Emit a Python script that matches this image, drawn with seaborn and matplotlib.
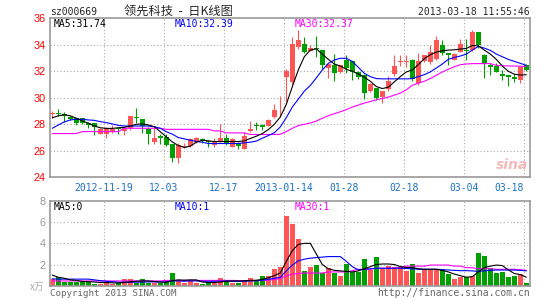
import numpy as np
import pandas as pd
import matplotlib
matplotlib.use("Agg")
import matplotlib.pyplot as plt
import seaborn as sns

# ---------------- data ----------------
tick_labels = ["2012-11-19", "12-03", "12-17", "2013-01-14", "01-28", "02-18", "03-04", "03-18"]

open_ = [28.75, 28.85, 28.77, 28.57, 28.45, 28.46, 28.08, 28.08, 27.28, 27.28,
         27.41, 27.74, 27.51, 27.69, 28.54, 28.38, 27.62, 26.64, 27.08, 27.06,
         26.49, 25.43, 26.25, 26.36, 26.69, 26.90, 26.72, 26.43, 26.73, 27.00,
         26.30, 26.60, 26.13, 27.50, 27.90, 27.95, 27.85, 28.52, 28.98, 31.60,
         31.20, 33.86, 34.04, 33.53, 33.75, 33.60, 32.27, 32.47, 31.92, 32.85,
         32.80, 31.97, 31.70, 30.48, 30.73, 30.05, 30.63, 31.80, 32.70, 32.70,
         32.83, 31.08, 32.75, 32.70, 32.95, 34.00, 33.40, 32.88, 33.45, 33.60,
         33.58, 34.95, 33.25, 32.45, 32.40, 31.83, 31.70, 31.58, 31.33, 32.50]
close = [28.85, 28.78, 28.60, 28.38, 28.10, 28.10, 27.95, 27.80, 27.62, 27.74,
         27.62, 27.62, 27.69, 28.59, 28.46, 27.90, 27.25, 26.99, 27.00, 26.44,
         25.43, 26.44, 26.40, 26.89, 26.99, 26.83, 26.65, 26.68, 27.00, 26.55,
         26.86, 26.35, 27.10, 27.63, 27.85, 27.80, 28.35, 29.07, 29.02, 32.00,
         34.04, 34.36, 33.43, 33.78, 33.70, 32.47, 32.53, 31.85, 32.47, 32.23,
         31.97, 31.55, 30.40, 31.05, 29.98, 30.48, 31.30, 32.43, 32.75, 32.75,
         31.45, 32.75, 33.20, 33.45, 34.33, 33.40, 33.20, 33.33, 34.08, 33.55,
         34.95, 33.95, 32.58, 32.33, 31.95, 31.65, 31.58, 31.40, 32.33, 32.08]
high = [29.00, 29.15, 28.95, 28.65, 28.50, 28.50, 28.20, 28.10, 27.70, 27.82,
        27.95, 27.75, 27.80, 28.64, 29.20, 28.40, 27.77, 27.82, 27.30, 27.30,
        26.50, 26.57, 26.60, 26.93, 27.05, 27.00, 26.80, 26.93, 28.00, 27.30,
        26.93, 26.68, 27.43, 28.26, 28.15, 28.00, 28.40, 29.52, 30.13, 32.14,
        34.60, 35.10, 34.60, 34.00, 34.70, 33.60, 32.53, 33.30, 32.47, 33.20,
        32.80, 32.00, 31.80, 31.15, 30.75, 30.55, 31.68, 33.20, 33.20, 33.20,
        32.90, 33.40, 33.25, 33.95, 34.70, 34.40, 33.40, 33.35, 34.45, 34.45,
        35.15, 34.95, 33.30, 32.65, 32.65, 32.08, 31.70, 31.83, 32.33, 32.58]
low = [28.45, 28.60, 28.20, 28.30, 27.98, 28.00, 27.75, 27.23, 27.25, 27.00,
       27.36, 27.25, 27.23, 27.60, 28.10, 27.32, 26.55, 26.54, 26.55, 26.40,
       25.18, 25.06, 26.20, 26.25, 26.60, 26.60, 26.30, 26.25, 26.68, 26.43,
       26.25, 26.10, 26.13, 27.43, 27.55, 27.55, 27.85, 28.44, 28.52, 29.70,
       30.95, 33.70, 33.40, 33.50, 33.10, 32.20, 31.50, 31.30, 31.90, 31.90,
       31.34, 31.40, 29.90, 30.45, 29.80, 29.63, 30.55, 31.68, 32.40, 32.30,
       31.30, 30.95, 32.70, 32.58, 32.83, 33.25, 32.50, 32.83, 33.45, 32.83,
       33.50, 33.75, 31.50, 31.70, 31.95, 31.33, 30.90, 31.20, 31.15, 32.00]

ma5 = [28.49, 28.64, 28.72, 28.64, 28.46, 28.26, 28.08, 27.87, 27.74, 27.69,
       27.69, 27.74, 27.77, 27.87, 28.00, 28.03, 27.95, 27.82, 27.44, 27.05,
       26.67, 26.40, 26.25, 26.35, 26.65, 26.80, 26.75, 26.70, 26.70, 26.70,
       26.70, 26.70, 26.75, 26.93, 27.10, 27.30, 27.60, 28.00, 28.55, 29.50,
       30.84, 32.10, 33.10, 33.60, 33.70, 33.30, 32.90, 32.55, 32.40, 32.15,
       32.00, 31.80, 31.55, 31.25, 30.85, 30.70, 30.80, 31.20, 31.60, 31.95,
       32.10, 32.50, 32.95, 33.25, 33.45, 33.55, 33.60, 33.62, 33.68, 33.72,
       33.95, 33.92, 33.60, 33.30, 32.90, 32.40, 32.00, 31.78, 31.72, 31.74]
ma10 = [27.70, 27.95, 28.18, 28.33, 28.38, 28.38, 28.33, 28.30, 28.20, 28.13,
        28.03, 27.92, 27.87, 27.87, 27.87, 27.87, 27.87, 27.82, 27.70, 27.44,
        27.26, 27.00, 26.90, 26.80, 26.70, 26.65, 26.55, 26.55, 26.55, 26.55,
        26.55, 26.55, 26.60, 26.65, 26.73, 26.95, 27.15, 27.36, 27.80, 28.50,
        29.30, 29.90, 30.50, 30.93, 31.50, 32.10, 32.60, 32.85, 32.98, 32.98,
        32.75, 32.30, 31.85, 31.60, 31.45, 31.43, 31.43, 31.43, 31.43, 31.43,
        31.45, 31.60, 31.75, 31.95, 32.25, 32.55, 32.90, 33.05, 33.15, 33.30,
        33.60, 33.88, 33.75, 33.58, 33.30, 33.10, 32.90, 32.75, 32.60, 32.45]
ma30 = [27.30, 27.30, 27.30, 27.30, 27.30, 27.45, 27.45, 27.45, 27.45, 27.45,
        27.45, 27.45, 27.70, 27.70, 27.70, 27.70, 27.70, 27.70, 27.70, 27.62,
        27.62, 27.62, 27.62, 27.62, 27.62, 27.62, 27.62, 27.50, 27.50, 27.35,
        27.35, 27.35, 27.35, 27.23, 27.23, 27.23, 27.23, 27.23, 27.25, 27.45,
        27.70, 27.90, 28.00, 28.10, 28.25, 28.45, 28.65, 28.80, 28.95, 29.10,
        29.30, 29.45, 29.60, 29.72, 29.85, 29.95, 30.05, 30.20, 30.35, 30.60,
        30.95, 31.10, 31.25, 31.45, 31.70, 31.95, 32.15, 32.35, 32.50, 32.55,
        32.58, 32.58, 32.58, 32.58, 32.45, 32.42, 32.40, 32.40, 32.38, 32.37]

volume = [0.60, 0.80, 0.38, 0.38, 0.38, 0.38, 0.38, 0.20, 0.16, 0.38,
          0.16, 0.22, 0.60, 0.60, 0.28, 0.60, 0.28, 0.28, 0.28, 0.38,
          1.16, 0.54, 0.22, 0.54, 0.28, 0.16, 0.22, 0.38, 0.70, 0.54,
          0.28, 0.28, 0.54, 0.70, 0.54, 0.91, 0.91, 1.57, 1.73, 6.58,
          5.83, 4.40, 1.39, 1.73, 1.95, 1.16, 1.64, 1.23, 0.91, 2.05,
          1.32, 1.32, 2.50, 1.50, 2.74, 1.54, 1.86, 1.73, 1.73, 1.42,
          2.05, 1.23, 1.57, 1.57, 1.57, 1.48, 1.10, 0.60, 0.79, 0.79,
          0.91, 3.12, 2.80, 1.64, 1.23, 1.32, 0.79, 0.91, 1.10, 0.22]
vma5 = [1.00, 0.80, 0.70, 0.55, 0.50, 0.40, 0.38, 0.35, 0.30, 0.30,
        0.27, 0.25, 0.30, 0.38, 0.42, 0.45, 0.45, 0.40, 0.35, 0.33,
        0.48, 0.55, 0.52, 0.55, 0.55, 0.35, 0.30, 0.30, 0.35, 0.42,
        0.45, 0.45, 0.47, 0.50, 0.52, 0.60, 0.75, 0.95, 1.20, 2.30,
        3.30, 3.90, 4.00, 4.00, 3.00, 2.00, 1.60, 1.45, 1.40, 1.35,
        1.30, 1.40, 1.60, 1.80, 2.00, 2.05, 2.05, 2.00, 1.80, 1.72,
        1.72, 1.60, 1.55, 1.55, 1.55, 1.45, 1.30, 1.10, 0.95, 0.80,
        0.85, 1.30, 1.70, 1.85, 1.95, 1.90, 1.50, 1.15, 1.05, 0.80]
vma10 = [0.65, 0.62, 0.62, 0.62, 0.62, 0.62, 0.62, 0.55, 0.48, 0.42,
         0.38, 0.33, 0.33, 0.33, 0.33, 0.35, 0.36, 0.35, 0.35, 0.37,
         0.45, 0.45, 0.42, 0.45, 0.45, 0.42, 0.42, 0.42, 0.42, 0.45,
         0.40, 0.40, 0.42, 0.45, 0.47, 0.52, 0.60, 0.70, 0.80, 1.40,
         1.95, 2.35, 2.50, 2.60, 2.65, 2.70, 2.75, 2.75, 2.75, 2.30,
         1.80, 1.50, 1.55, 1.60, 1.65, 1.65, 1.65, 1.65, 1.65, 1.62,
         1.60, 1.55, 1.55, 1.55, 1.55, 1.52, 1.48, 1.45, 1.42, 1.42,
         1.40, 1.35, 1.40, 1.45, 1.48, 1.48, 1.48, 1.48, 1.45, 1.40]
vma30 = [0.45, 0.45, 0.45, 0.45, 0.45, 0.45, 0.45, 0.45, 0.45, 0.45,
         0.45, 0.45, 0.45, 0.45, 0.45, 0.45, 0.45, 0.45, 0.45, 0.50,
         0.50, 0.50, 0.50, 0.50, 0.50, 0.50, 0.50, 0.50, 0.50, 0.50,
         0.50, 0.48, 0.48, 0.48, 0.48, 0.48, 0.52, 0.58, 0.70, 0.92,
         1.10, 1.15, 1.20, 1.20, 1.20, 1.20, 1.30, 1.30, 1.30, 1.30,
         1.42, 1.55, 1.55, 1.55, 1.65, 1.65, 1.65, 1.65, 1.75, 1.85,
         1.85, 1.85, 1.85, 1.95, 1.95, 1.95, 1.95, 1.85, 1.85, 1.70,
         1.70, 1.60, 1.60, 1.60, 1.55, 1.55, 1.55, 1.55, 1.50, 1.45]

# ---------------- styling ----------------
sns.set_theme(style="white")
plt.rcParams["font.family"] = ["DejaVu Sans", "Noto Sans CJK SC"]
MONO = ["DejaVu Sans Mono"]
CJK = ["Noto Sans CJK SC", "DejaVu Sans"]
RED = "#ff5555"
GREEN = "#009f00"
GRID = "#aaaaaa"
FRAME = "#999999"

W, H = 545, 300
fig = plt.figure(figsize=(W / 100, H / 100), dpi=100)
fig.patch.set_facecolor("white")


def fx(px):
    return px / W


def fy(py):
    return 1 - py / H


ax = fig.add_axes([fx(50), fy(177.3), fx(529.5) - fx(50), fy(18.3) - fy(177.3)])
axv = fig.add_axes([fx(50), fy(285.7), fx(529.5) - fx(50), fy(201) - fy(285.7)])

n = len(close)
idx = np.arange(n)
df = pd.DataFrame({"i": idx, "open": open_, "close": close, "high": high, "low": low,
                   "ma5": ma5, "ma10": ma10, "ma30": ma30, "vol": volume,
                   "vma5": vma5, "vma10": vma10, "vma30": vma30})
up = df["close"] >= df["open"]
colors = np.where(up, RED, GREEN)

# candles
ax.vlines(df["i"], df["low"], df["high"], colors=colors, lw=0.8, zorder=2)
body_bottom = np.minimum(df["open"], df["close"])
body_h = np.maximum((df["close"] - df["open"]).abs(), 0.06)
ax.bar(df["i"], body_h, bottom=body_bottom, width=0.78, color=colors, lw=0, zorder=3)

for col, c in [("ma30", "#ff00ff"), ("ma10", "#0000ff"), ("ma5", "black")]:
    sns.lineplot(data=df, x="i", y=col, ax=ax, color=c, lw=0.8, estimator=None, zorder=4)

# volume
axv.bar(df["i"], df["vol"], width=0.82, color=colors, lw=0, zorder=2)
for col, c in [("vma30", "#ff00ff"), ("vma10", "#0000ff"), ("vma5", "black")]:
    sns.lineplot(data=df, x="i", y=col, ax=axv, color=c, lw=0.8, estimator=None, zorder=4)

grid_x = [8.62 + 10 * k for k in range(len(tick_labels))]
xlim = (-0.38, 79.53)

for a in (ax, axv):
    a.set_xlim(*xlim)
    a.set_xlabel("")
    a.set_ylabel("")
    for s in a.spines.values():
        s.set_color(FRAME)
        s.set_linewidth(1.2)
        s.set_visible(True)
    a.tick_params(length=0)
    for gx in grid_x:
        a.axvline(gx, color=GRID, ls=(0, (1, 2)), lw=0.8, zorder=1)

ax.set_ylim(24, 36)
ax.set_yticks(np.arange(24, 37, 2))
ax.set_yticklabels([str(v) for v in range(24, 37, 2)], color="red", fontsize=7.8,
                   family=["Liberation Sans"])
ax.tick_params(axis="y", pad=3)
for gy in range(26, 36, 2):
    ax.axhline(gy, color=GRID, ls=(0, (1, 2)), lw=0.8, zorder=1)
ax.set_xticks(grid_x)
ax.set_xticklabels(tick_labels, color="#1a6fc9", fontsize=7, family=MONO)
ax.tick_params(axis="x", pad=4)
ax.get_xticklabels()[-1].set_ha("right")
ax.get_xticklabels()[-1].set_x(grid_x[-1] + 0.4)

axv.set_ylim(0, 8)
axv.set_yticks([2, 4, 6, 8])
axv.set_yticklabels(["2", "4", "6", "8"], color="#999999", fontsize=7.8,
                    family=["Liberation Sans"])
axv.tick_params(axis="y", pad=3)
axv.set_xticks([])
for gy in (2, 4, 6):
    axv.axhline(gy, color=GRID, ls=(0, (1, 2)), lw=0.8, zorder=1)

# texts
def t(x, y, s, **kw):
    kw.setdefault("va", "center")
    kw.setdefault("ha", "left")
    kw.setdefault("family", MONO)
    kw.setdefault("fontsize", 7)
    fig.text(fx(x), fy(y), s, **kw)


t(50, 11.7, "sz000669")
t(178, 11.5, "领先科技  -  日K线图", ha="center", family=CJK, fontsize=8.8)
t(529.5, 12.3, "2013-03-18 11:55:46", ha="right")
t(54, 24, "MA5:31.74", color="black")
t(175, 24, "MA10:32.39", color="#0000ff")
t(295, 24, "MA30:32.37", color="#ff00ff")
t(54, 206.5, "MA5:0", color="black")
t(175, 206.5, "MA10:1", color="#0000ff")
t(295, 206.5, "MA30:1", color="#ff00ff")
t(44, 287, "x万", ha="right", family=CJK, fontsize=7, color="#aaaaaa")
t(50, 293, "Copyright 2013 SINA.COM", color="#666666", fontsize=6.6)
t(529.5, 293, "http://finance.sina.com.cn", ha="right", color="#666666", fontsize=7)
t(512, 165, "sina", ha="center", family=["DejaVu Sans"], fontsize=10, color="#f2a8a8",
  style="italic", weight="bold", alpha=0.8)

fig.savefig("out.png", dpi=100, facecolor="white")
